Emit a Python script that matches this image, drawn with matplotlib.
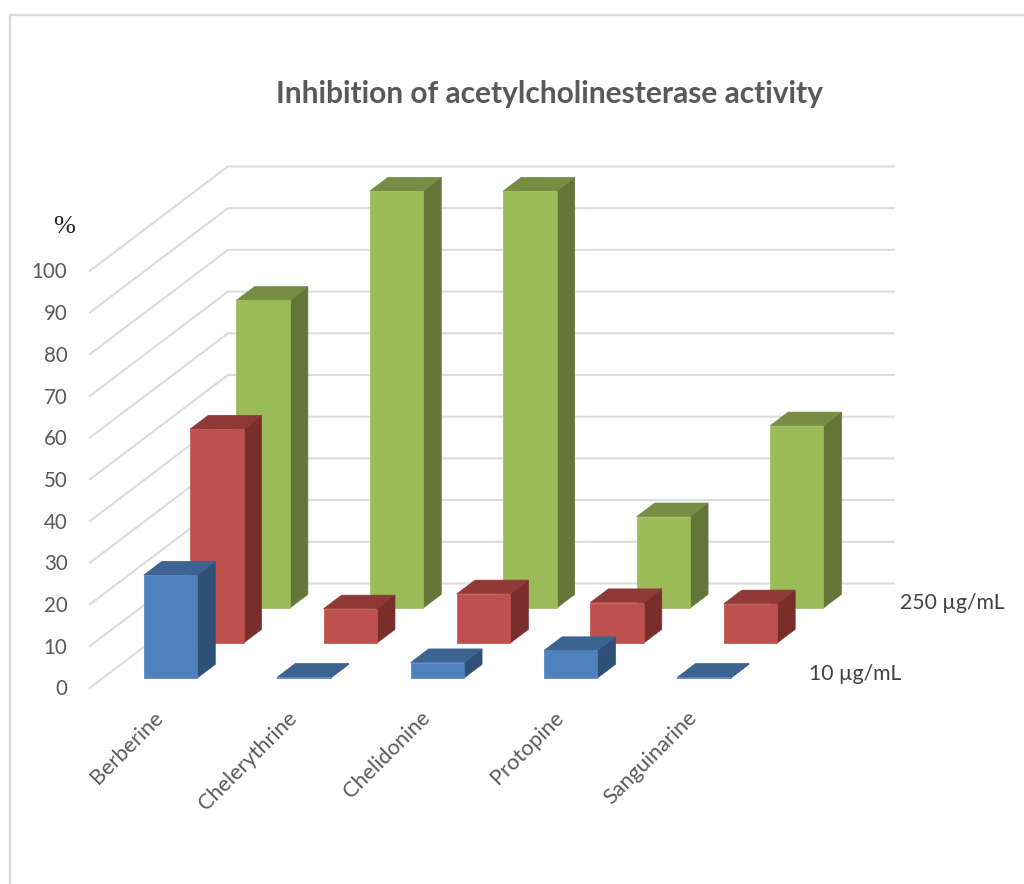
import numpy as np
import matplotlib
matplotlib.use('Agg')
import matplotlib.pyplot as plt
from matplotlib.lines import Line2D
from matplotlib.patches import Polygon

compounds = ['Berberine', 'Chelerythrine', 'Chelidonine', 'Protopine', 'Sanguinarine']
dose_labels = ['10 µg/mL', '100 µg/mL', '250 µg/mL']
inhibition_10 = [24.7, 0.2, 3.7, 6.6, 0.2]
inhibition_100 = [51.3, 8.2, 11.8, 9.7, 9.4]
inhibition_250 = [73.8, 100.0, 100.0, 21.9, 43.7]
value_ticks = [0, 10, 20, 30, 40, 50, 60, 70, 80, 90, 100]

# face colours per row: front, top, side
blue = ('#4f81bd', '#3d6390', '#2f5077')
red = ('#c0504d', '#8f3937', '#7a2e2c')
green = ('#9bbb59', '#768d43', '#637637')

W, H = 1024, 884
CAT_PX = 133.4
VAL_PX = 4.17
ROW_DX = 46.3    # screen shift per row of depth
ROW_DY = 35.0
X0, Y0 = 89, 688.5

fig = plt.figure(figsize=(W / 100, H / 100), dpi=100)
plt.rcParams['font.family'] = ['Lato', 'DejaVu Sans']

# one axes over the plot floor, category units along x and percent along y
right, top = 1000, 100
ax = fig.add_axes([X0 / W, 1 - Y0 / H, (right - X0) / W, (Y0 - top) / H])
ax.set_xlim(0, (right - X0) / CAT_PX)
ax.set_ylim(0, (Y0 - top) / VAL_PX)
ax.axis('off')


def project(cat, row, value):
    # oblique projection: depth moves a point right and up on screen
    return cat + row * ROW_DX / CAT_PX, value + row * ROW_DY / VAL_PX


def draw_bar(cat, row, value, colors, start=0.307, width=0.4, depth=0.39):
    c0, c1 = cat + start, cat + start + width
    d0, d1 = row + 0.3, row + 0.3 + depth
    front = [project(c0, d0, 0), project(c1, d0, 0), project(c1, d0, value), project(c0, d0, value)]
    roof = [project(c0, d0, value), project(c1, d0, value), project(c1, d1, value), project(c0, d1, value)]
    side = [project(c1, d0, 0), project(c1, d1, 0), project(c1, d1, value), project(c1, d0, value)]
    for pts, col in ((side, colors[2]), (roof, colors[1]), (front, colors[0])):
        ax.add_patch(Polygon(pts, closed=True, fc=col, ec=col, lw=0.5, clip_on=False, zorder=3))


# walls
for v in value_ticks:
    pts = [project(0, 0, v), project(0, 3, v), project(5, 3, v)]
    ax.add_line(Line2D([p[0] for p in pts], [p[1] for p in pts], color='#dcdcdc', lw=1.5,
                       solid_joinstyle='miter', solid_capstyle='butt', clip_on=False, zorder=1))
    ax.annotate(str(v), project(0, 0, v), xytext=(-15.5, -0.7), textcoords='offset points',
                ha='right', va='center', fontsize=14.8, color='#595959', annotation_clip=False)

# back row first so the nearer bars cover it
rows = [(2, inhibition_250, green), (1, inhibition_100, red), (0, inhibition_10, blue)]
for row, values, colors in rows:
    for i, val in enumerate(values):
        draw_bar(i, row, val, colors)

for i, name in enumerate(compounds):
    ax.annotate(name, project(i + 0.5, 0, 0), xytext=(-1.8, -13.6), textcoords='offset points',
                ha='right', va='top', rotation=45, rotation_mode='anchor',
                fontsize=15.6, color='#595959', annotation_clip=False)

# series names beside the floor, the middle one is not shown on this chart
ax.annotate(dose_labels[2], project(5, 2.5, 0), xytext=(20.5, -1.5), textcoords='offset points',
            ha='left', va='center', fontsize=15.2, color='#404040', annotation_clip=False)
ax.annotate(dose_labels[0], project(5, 0.5, 0), xytext=(21.5, -2), textcoords='offset points',
            ha='left', va='center', fontsize=15.2, color='#404040', annotation_clip=False)

fig.text(549 / W, 1 - 93.5 / H, 'Inhibition of acetylcholinesterase activity', ha='center', va='center',
         fontsize=21.5, fontweight='bold', color='#595959')
fig.text(64.5 / W, 1 - 227 / H, '%', ha='center', va='center', fontsize=19,
         family='Liberation Serif', color='#222222')

# outer chart frame
fig.add_artist(Line2D([10 / W, 10 / W, 1 + 1 / W], [0, 1 - 15 / H, 1 - 15 / H], color='#d9d9d9', lw=1.7))

fig.savefig('out.png', dpi=100)
